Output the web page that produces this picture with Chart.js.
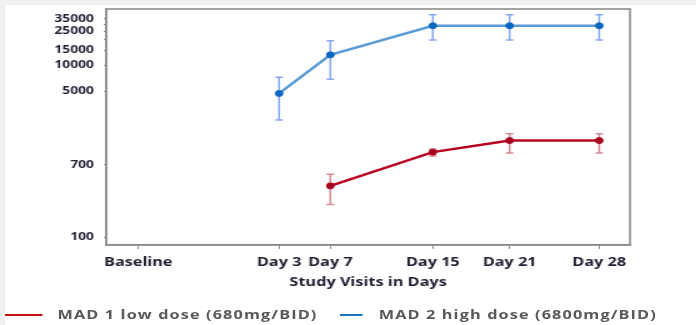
<!DOCTYPE html>
<html>
<head>
<meta charset="utf-8">
<script src="https://cdn.jsdelivr.net/npm/chart.js@4"></script>
<style>
  html, body { margin: 0; padding: 0; }
  body { width: 696px; height: 325px; background: #f0f0f0; position: relative; overflow: hidden; font-family: "Open Sans", sans-serif; }
  #paper { position: absolute; left: 5px; top: 5px; right: 0; bottom: 0; background: #fff; }
  /* the source picture is stretched sideways, so the chart is drawn narrow and widened */
  #stage { position: absolute; left: 0; top: 0; width: 557px; height: 325px; transform: scaleX(1.25); transform-origin: 0 0; }
  #chart { position: absolute; left: 0; top: 0; }
  .leg { position: absolute; top: 305px; font-size: 13px; letter-spacing: 0.9px; font-weight: 700; color: #595959; white-space: nowrap; }
  .leg i { position: absolute; top: 9px; height: 2px; }
</style>
</head>
<body>
<div id="paper"></div>
<div id="stage">
  <canvas id="chart" width="557" height="325"></canvas>
  <div id="legend"></div>
</div>
<script>
// visits (day numbers on the x axis)
const visitLabels = ['Baseline', 'Day 3', 'Day 7', 'Day 15', 'Day 21', 'Day 28'];
const visitDays = [-8, 3, 7, 15, 21, 28];

// MAD 1 low dose
const lowMean = [null, null, 395, 975, 1330, 1330];
const lowUpper = [null, null, 540, 1060, 1590, 1590];
const lowLower = [null, null, 240, 880, 950, 950];

// MAD 2 high dose
const highMean = [null, 4700, 13200, 28800, 28800, 28800];
const highUpper = [null, 7250, 19300, 38700, 38700, 38700];
const highLower = [null, 2310, 6870, 19700, 19700, 19700];

const yTicks = [100, 700, 5000, 10000, 15000, 20000, 25000, 30000, 35000];
const yLabelled = [100, 700, 5000, 10000, 15000, 25000, 35000];

const seriesNames = ['MAD 1 low dose (680mg/BID)', 'MAD 2 high dose (6800mg/BID)'];

function pts(vals) {
    return visitDays.map((d, i) => ({ x: d, y: vals[i] })).filter(p => p.y !== null);
}

// error bars, drawn under the lines
const errorBars = {
    id: 'errorBars',
    beforeDatasetsDraw(chart) {
        const ctx = chart.ctx;
        const xs = chart.scales.x, ys = chart.scales.y;
        chart.data.datasets.forEach(ds => {
            ctx.save();
            ctx.strokeStyle = ds.errColor;
            ctx.lineWidth = 1.5;
            visitDays.forEach((d, i) => {
                if (ds.upper[i] === null) return;
                const x = xs.getPixelForValue(d);
                const yt = ys.getPixelForValue(ds.upper[i]);
                const yb = ys.getPixelForValue(ds.lower[i]);
                ctx.beginPath();
                ctx.moveTo(x, yt); ctx.lineTo(x, yb);
                ctx.moveTo(x - 3, yt); ctx.lineTo(x + 3, yt);
                ctx.moveTo(x - 3, yb); ctx.lineTo(x + 3, yb);
                ctx.stroke();
            });
            ctx.restore();
        });
    }
};

// closed grey frame round the plot
const frame = {
    id: 'frame',
    beforeDraw(chart) {
        const a = chart.chartArea, ctx = chart.ctx;
        ctx.save();
        ctx.strokeStyle = '#858585';
        ctx.lineWidth = 1.5;
        ctx.strokeRect(a.left, a.top, a.right - a.left, a.bottom - a.top);
        ctx.restore();
    }
};

const tickFont = { family: 'Open Sans', weight: 'bold' };

new Chart(document.getElementById('chart'), {
    type: 'line',
    data: {
        datasets: [
            {
                label: seriesNames[0],
                data: pts(lowMean),
                upper: lowUpper, lower: lowLower,
                borderColor: '#b8001f',
                borderWidth: 2.5,
                pointBackgroundColor: '#a8001e',
                pointBorderColor: '#a8001e',
                pointRadius: 3,
                pointBorderWidth: 1,
                errColor: '#d68a94'
            },
            {
                label: seriesNames[1],
                data: pts(highMean),
                upper: highUpper, lower: highLower,
                borderColor: '#5b9bd5',
                borderWidth: 2.5,
                pointBackgroundColor: '#0a66c2',
                pointBorderColor: '#0a66c2',
                pointRadius: 3,
                pointBorderWidth: 1,
                errColor: '#86a6f4'
            }
        ]
    },
    options: {
        responsive: false,
        animation: false,
        layout: { padding: { top: 9, right: 53, left: 0, bottom: 35 } },
        plugins: { legend: { display: false }, tooltip: { enabled: false } },
        scales: {
            x: {
                type: 'linear',
                min: -10.5, max: 30.4,
                afterBuildTicks: s => { s.ticks = visitDays.map(v => ({ value: v })); },
                afterFit: s => { s.height = 45; s.paddingLeft = 0; s.paddingRight = 0; },
                grid: { drawOnChartArea: false, tickLength: 4, color: '#8c8c8c' },
                border: { color: '#8c8c8c', width: 1.5 },
                ticks: {
                    autoSkip: false, maxRotation: 0, padding: 5,
                    color: '#1f1f33', font: { ...tickFont, size: 13 },
                    callback: v => visitLabels[visitDays.indexOf(v)] || ''
                },
                title: {
                    display: true, text: 'Study Visits in Days',
                    color: '#1f1f33', font: { ...tickFont, size: 13 },
                    padding: { top: 0, bottom: 0 }
                }
            },
            y: {
                type: 'logarithmic',
                bounds: 'data',
                min: 81, max: 45100,
                afterBuildTicks: s => { s.ticks = yTicks.map(v => ({ value: v })); },
                afterFit: s => { s.width = 85; s.paddingTop = 0; s.paddingBottom = 0; },
                grid: { drawOnChartArea: false, tickLength: 2, color: '#8c8c8c' },
                border: { color: '#8c8c8c', width: 1.5 },
                ticks: {
                    autoSkip: false, padding: 8,
                    color: '#1f1f33', font: { ...tickFont, size: 11 },
                    callback: v => yLabelled.includes(v) ? String(v) : ''
                }
            }
        }
    },
    plugins: [frame, errorBars]
});

// legend under the chart
const legendPos = [{ line: 4, w: 30, text: 46 }, { line: 272, w: 18, text: 303 }];
const colors = ['#cc1111', '#1a72c8'];
const leg = document.getElementById('legend');
seriesNames.forEach((name, i) => {
    const p = legendPos[i];
    leg.insertAdjacentHTML('beforeend',
        `<div class="leg" style="left:${p.line}px"><i style="left:0;width:${p.w}px;background:${colors[i]}"></i>` +
        `<span style="position:absolute;left:${p.text - p.line}px">${name}</span></div>`);
});
</script>
</body>
</html>
